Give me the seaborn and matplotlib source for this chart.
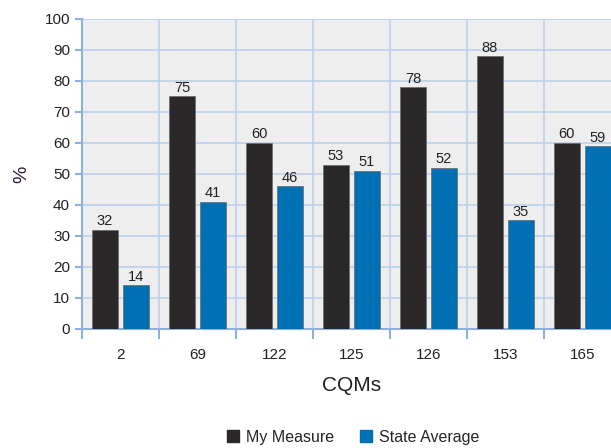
import pandas as pd
import matplotlib.pyplot as plt
import seaborn as sns
from matplotlib.lines import Line2D

# Data
cqms = ['2', '69', '122', '125', '126', '153', '165']
my_measure = [32, 75, 60, 53, 78, 88, 60]
state_average = [14, 41, 46, 51, 52, 35, 59]
series = ['My Measure', 'State Average']
colors = ['#2a2828', '#0070b4']

df = pd.DataFrame({
    'CQM': cqms * 2,
    'Series': [series[0]] * len(cqms) + [series[1]] * len(cqms),
    'Value': my_measure + state_average,
})

sns.set_style('white')
plt.rcParams['font.family'] = ['Liberation Sans', 'DejaVu Sans']

fig = plt.figure(figsize=(6.11, 4.48), dpi=100)
ax = fig.add_axes([0.134, 0.266, 0.882, 0.692])
ax.set_facecolor('#eeeeee')

sns.barplot(data=df, x='CQM', y='Value', hue='Series', palette=colors,
            saturation=1, width=0.8, gap=0.15, edgecolor='#6a6a6a',
            linewidth=0.5, legend=False, ax=ax, zorder=3)

# value labels
for cont in ax.containers:
    ax.bar_label(cont, fontsize=10.5, color='#222222', padding=1)

grid_c = '#bcd0ec'
ax.set_ylim(0, 100)
ax.set_yticks(range(0, 101, 10))
ax.set_xlim(-0.5, len(cqms) - 0.5)
ax.set_xticks([i + 0.5 for i in range(-1, len(cqms))], minor=True)
ax.grid(axis='y', color=grid_c, linewidth=1.2, zorder=0)
ax.grid(axis='x', which='minor', color=grid_c, linewidth=1.2, zorder=0)
ax.set_axisbelow(True)

for s in ['top', 'right']:
    ax.spines[s].set_visible(False)
ax.spines['left'].set_color('#8fb0dc')
ax.spines['bottom'].set_color('#8fb0dc')
ax.spines['left'].set_linewidth(1.5)
ax.spines['bottom'].set_linewidth(1.5)

ax.tick_params(axis='y', length=5, width=1.5, color='#8fb0dc', labelsize=11,
               labelcolor='#222222', direction='out', left=True)
ax.tick_params(axis='x', which='major', length=0, labelsize=11,
               labelcolor='#222222', pad=14)
ax.tick_params(axis='x', which='minor', length=7, width=1.5,
               color='#8fb0dc', direction='out', bottom=True)

ax.set_ylabel('%', fontsize=14, color='#2a1a3a', labelpad=10)
ax.set_xlabel('CQMs', fontsize=15, color='#222222', labelpad=10)

handles = [Line2D([0], [0], marker='s', linestyle='', markersize=8,
                  markerfacecolor=c, markeredgecolor=c) for c in colors]
ax.legend(handles, series, loc='center', bbox_to_anchor=(0.5, -0.35),
          ncol=2, frameon=False, fontsize=11.5, handletextpad=0.2,
          columnspacing=1.4, handlelength=1.2)

plt.savefig('out.png', dpi=100)
